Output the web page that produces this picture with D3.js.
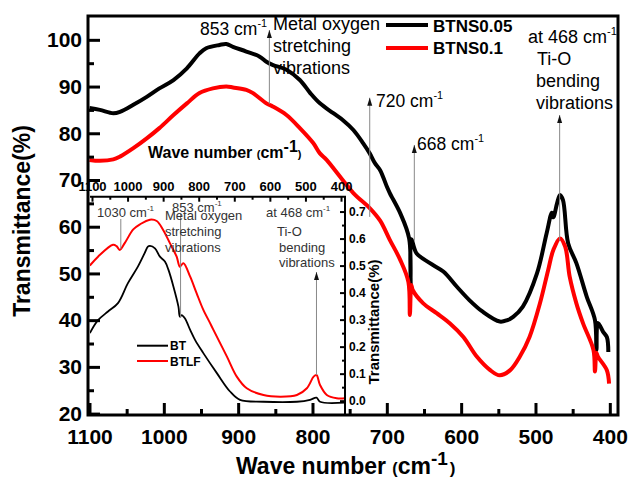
<!DOCTYPE html>
<html lang="en">
<head>
<meta charset="UTF-8">
<title>FTIR Transmittance BTNS</title>
<script src="https://d3js.org/d3.v7.min.js"></script>
<style>
  body { margin: 0; background: #fff; }
  svg { display: block; font-family: "Liberation Sans", Arial, sans-serif; }
</style>
</head>
<body>
<div id="chart"></div>
<script>
// main spectra (wave number cm-1, transmittance %)
const btns005Wave = [1100,1086,1068,1059,1041,1023,1006,987,969,952,943,925,916,907,889,871,862,853,835,817,803,790,772,759,745,732,723,716,709,700,696,682,670,668,667,660,642,624,606,589,571,548,538,530,517,498,485,478,476,471,467,463,456,445,431,420,418,416,409,404,402];
const btns005T    = [85.4,85.0,84.3,84.6,86.1,87.8,89.6,91.4,93.9,97.1,98.2,98.9,99.1,98.5,97.5,96.4,95.3,94.6,93.6,91.4,88.6,86.4,84.3,82.8,80.7,77.9,75.7,73.6,72.1,68.6,67.2,62.9,57.5,47.5,57.3,54.3,52.2,50.4,47.2,44.3,41.8,39.7,40.0,40.7,42.9,50.0,58.6,63.0,62.0,65.0,66.8,65.7,56.4,52.2,45.0,40.0,33.6,39.4,37.5,36.4,33.2];

const btns01Wave = [1100,1086,1068,1059,1041,1023,1006,987,969,952,934,916,907,889,880,862,853,835,817,799,790,781,745,723,709,696,682,671,669,667,665,651,633,615,597,579,561,548,534,521,508,494,483,476,467,460,454,445,436,422,420,418,416,404,401];
const btns01T    = [74.3,74.1,74.4,75.0,76.8,78.9,81.1,83.9,86.4,88.6,89.6,90.0,89.8,89.3,88.6,86.4,85.7,83.9,81.1,77.9,75.7,74.3,67.2,64.0,61.3,57.2,52.9,48.2,41.1,47.5,46.4,43.6,41.5,39.3,36.4,32.2,29.3,28.2,29.3,32.2,36.4,43.6,50.7,55.0,57.5,55.7,49.3,43.6,39.3,33.6,29.0,33.0,32.2,29.3,26.4];

// inset spectra (wave number cm-1, transmittance)
const btWave = [1106,1083,1055,1027,999,971,952,943,937,923,909,895,885,871,857,853,848,839,824,810,787,749,712,684,618,524,487,469,459,389];
const btT    = [0.25,0.298,0.330,0.361,0.435,0.496,0.546,0.570,0.573,0.564,0.533,0.515,0.484,0.422,0.348,0.311,0.317,0.305,0.262,0.224,0.176,0.102,0.034,0.003,-0.004,-0.004,0.003,0.011,-0.004,-0.007];

const btlfWave = [1106,1083,1041,1031,1022,1008,984,965,937,918,900,881,862,853,843,824,806,787,768,759,721,693,665,618,571,524,496,477,469,459,440,412,389];
const btlfT    = [0.50,0.533,0.577,0.572,0.558,0.583,0.634,0.653,0.670,0.665,0.632,0.583,0.533,0.496,0.509,0.459,0.398,0.336,0.287,0.263,0.164,0.089,0.046,0.021,0.015,0.021,0.046,0.089,0.095,0.058,0.021,0.009,0.009];

const seriesNames = ["BTNS0.05", "BTNS0.1"];
const insetNames = ["BT", "BTLF"];
const xTicks = [1100, 1000, 900, 800, 700, 600, 500, 400];
const xMinor = [1050, 950, 850, 750, 650, 550, 450];
const yTicks = [20, 30, 40, 50, 60, 70, 80, 90, 100];
const yMinor = [25, 35, 45, 55, 65, 75, 85, 95];
const insetYTicks = [0, 0.1, 0.2, 0.3, 0.4, 0.5, 0.6, 0.7];
const insetYMinor = [0.05, 0.15, 0.25, 0.35, 0.45, 0.55, 0.65];

const width = 629, height = 478;
const svg = d3.select("#chart").append("svg")
    .attr("width", width).attr("height", height);

const x = d3.scaleLinear().domain([1102, 389]).range([88, 618]);
const y = d3.scaleLinear().domain([19.7, 105.1]).range([415, 16]);

const xi = d3.scaleLinear().domain([1105.6, 388.8]).range([90, 345]);
const yi = d3.scaleLinear().domain([-0.053, 0.755]).range([415, 196.7]);

const defs = svg.append("defs");
defs.append("clipPath").attr("id", "clipMain").append("rect")
    .attr("x", 88).attr("y", 16).attr("width", 530).attr("height", 399);
defs.append("clipPath").attr("id", "clipInset").append("rect")
    .attr("x", 90).attr("y", 196.7).attr("width", 255).attr("height", 218.3);

function zip(a, b) { return a.map((d, i) => [d, b[i]]); }

// text with a superscript part
function supText(g, px, py, base, sup, size, color) {
    const t = g.append("text").attr("x", px).attr("y", py)
        .attr("font-size", size).attr("fill", color || "#000");
    t.append("tspan").text(base);
    t.append("tspan").attr("dy", -size * 0.45).attr("font-size", size * 0.62).text(sup);
    return t;
}

function arrow(g, px, y1, y2, head) {
    g.append("line").attr("x1", px).attr("x2", px).attr("y1", y1).attr("y2", y2)
        .attr("stroke", "#888").attr("stroke-width", 1);
    if (head) {
        g.append("path")
            .attr("d", `M${px},${y1} L${px - 2.5},${y1 + 8} L${px + 2.5},${y1 + 8} Z`)
            .attr("fill", "#111");
    }
}

// main curves
const line = d3.line().x(d => x(d[0])).y(d => y(d[1])).curve(d3.curveCatmullRom.alpha(0.5));
const mainG = svg.append("g").attr("clip-path", "url(#clipMain)");
mainG.append("path").datum(zip(btns005Wave, btns005T)).attr("d", line)
    .attr("fill", "none").attr("stroke", "#000").attr("stroke-width", 4).attr("stroke-linejoin", "round");
mainG.append("path").datum(zip(btns01Wave, btns01T)).attr("d", line)
    .attr("fill", "none").attr("stroke", "#ff0000").attr("stroke-width", 4).attr("stroke-linejoin", "round");

// main annotations
const ann = svg.append("g");
arrow(ann, x(858), y(102.1), y(86.3), true);
supText(ann, 200, 35, "853 cm", "-1", 17.5);
ann.append("text").attr("x", 273).attr("y", 30).attr("font-size", 18).text("Metal oxygen");
ann.append("text").attr("x", 273).attr("y", 52).attr("font-size", 18).text("stretching");
ann.append("text").attr("x", 273).attr("y", 74).attr("font-size", 18).text("vibrations");

arrow(ann, x(723), y(87.6), y(62.1), true);
supText(ann, 376, 107, "720 cm", "-1", 17.5);

arrow(ann, x(663), y(77.5), y(57), true);
supText(ann, 417, 150, "668 cm", "-1", 17.5);

arrow(ann, x(467.5), y(83.9), y(57), true);
supText(ann, 528, 43, "at 468 cm", "-1", 18);
ann.append("text").attr("x", 537).attr("y", 65).attr("font-size", 18).text("Ti-O");
ann.append("text").attr("x", 536).attr("y", 87).attr("font-size", 18).text("bending");
ann.append("text").attr("x", 536).attr("y", 109).attr("font-size", 18).text("vibrations");

// legend
const leg = svg.append("g");
[["#000", 25, 32], ["#ff0000", 48, 54]].forEach((c, i) => {
    leg.append("line").attr("x1", 386).attr("x2", 428).attr("y1", c[1]).attr("y2", c[1])
        .attr("stroke", c[0]).attr("stroke-width", 4);
    leg.append("text").attr("x", 433).attr("y", c[2]).attr("font-size", 17)
        .attr("font-weight", "bold").text(seriesNames[i]);
});

// inset
const inset = svg.append("g");
inset.append("rect").attr("x", 90).attr("y", 196.7).attr("width", 255).attr("height", 218.3).attr("fill", "#fff");
const lineI = d3.line().x(d => xi(d[0])).y(d => yi(d[1])).curve(d3.curveCatmullRom.alpha(0.5));
const insetCurves = inset.append("g").attr("clip-path", "url(#clipInset)");
insetCurves.append("path").datum(zip(btlfWave, btlfT)).attr("d", lineI)
    .attr("fill", "none").attr("stroke", "#ff0000").attr("stroke-width", 2);
insetCurves.append("path").datum(zip(btWave, btT)).attr("d", lineI)
    .attr("fill", "none").attr("stroke", "#000").attr("stroke-width", 1.8);

// inset annotations
const ia = inset.append("g");
arrow(ia, xi(1019), 219, 249, false);
supText(ia, 97, 217, "1030 cm", "-1", 13, "#333");
arrow(ia, xi(851), 214, 318, false);
supText(ia, 172, 212, "853 cm", "-1", 13, "#333");
ia.append("text").attr("x", 165).attr("y", 220).attr("font-size", 13).attr("fill", "#333").text("Metal oxygen");
ia.append("text").attr("x", 165).attr("y", 236).attr("font-size", 13).attr("fill", "#333").text("stretching");
ia.append("text").attr("x", 165).attr("y", 252).attr("font-size", 13).attr("fill", "#333").text("vibrations");
arrow(ia, xi(469), 272, 375, true);
supText(ia, 266, 217, "at 468 cm", "-1", 13, "#333");
ia.append("text").attr("x", 277).attr("y", 236).attr("font-size", 13).attr("fill", "#333").text("Ti-O");
ia.append("text").attr("x", 279).attr("y", 252).attr("font-size", 13).attr("fill", "#333").text("bending");
ia.append("text").attr("x", 279).attr("y", 267).attr("font-size", 13).attr("fill", "#333").text("vibrations");

// inset legend
[["#000", 345.7, 350], ["#ff0000", 361, 365.5]].forEach((c, i) => {
    inset.append("line").attr("x1", 137).attr("x2", 168).attr("y1", c[1]).attr("y2", c[1])
        .attr("stroke", c[0]).attr("stroke-width", 2);
    inset.append("text").attr("x", 170).attr("y", c[2]).attr("font-size", 12)
        .attr("font-weight", "bold").text(insetNames[i]);
});

// inset axes
const iTop = inset.append("g").attr("transform", "translate(0,196.7)")
    .call(d3.axisTop(xi).tickValues(xTicks).tickSizeInner(-5).tickSizeOuter(0).tickPadding(6).tickFormat(d3.format("d")));
const iTopMinor = inset.append("g").attr("transform", "translate(0,196.7)")
    .call(d3.axisTop(xi).tickValues(xMinor).tickSizeInner(-3).tickSizeOuter(0).tickFormat(""));
const iRight = inset.append("g").attr("transform", "translate(345,0)")
    .call(d3.axisRight(yi).tickValues(insetYTicks).tickSizeInner(-5).tickSizeOuter(0).tickPadding(4).tickFormat(d3.format(".1f")));
const iRightMinor = inset.append("g").attr("transform", "translate(345,0)")
    .call(d3.axisRight(yi).tickValues(insetYMinor).tickSizeInner(-3).tickSizeOuter(0).tickFormat(""));
[iTop, iTopMinor, iRight, iRightMinor].forEach(g => {
    g.select(".domain").remove();
    g.selectAll("line").attr("stroke", "#000").attr("stroke-width", 2);
    g.selectAll("text").attr("font-size", 12).attr("font-weight", "bold")
        .attr("font-family", "Liberation Sans, Arial, sans-serif").attr("fill", "#000");
});
iTop.selectAll("text").attr("font-size", 13);
inset.append("path").attr("d", "M90,196.7 L345,196.7 L345,415")
    .attr("fill", "none").attr("stroke", "#000").attr("stroke-width", 2);

const iyTitle = inset.append("text").attr("transform", "translate(379,322) rotate(-90)")
    .attr("text-anchor", "middle").attr("font-size", 15).attr("font-weight", "bold");
iyTitle.text("Transmittance(%)");

const ixTitle = inset.append("text").attr("x", 148).attr("y", 158).attr("font-size", 16).attr("font-weight", "bold");
ixTitle.append("tspan").text("Wave number ");
ixTitle.append("tspan").attr("font-size", 11).text("(");
ixTitle.append("tspan").text("cm");
ixTitle.append("tspan").attr("dy", -6).text("-1");
ixTitle.append("tspan").attr("dy", 6).attr("font-size", 11).text(")");

// main axes
const axG = svg.append("g");
const xAxis = axG.append("g").attr("transform", "translate(0,415)")
    .call(d3.axisBottom(x).tickValues(xTicks).tickSizeInner(-12).tickSizeOuter(0).tickPadding(14).tickFormat(d3.format("d")));
const xAxisMinor = axG.append("g").attr("transform", "translate(0,415)")
    .call(d3.axisBottom(x).tickValues(xMinor).tickSizeInner(-6).tickSizeOuter(0).tickFormat(""));
const yAxis = axG.append("g").attr("transform", "translate(88,0)")
    .call(d3.axisLeft(y).tickValues(yTicks).tickSizeInner(-12).tickSizeOuter(0).tickPadding(6));
const yAxisMinor = axG.append("g").attr("transform", "translate(88,0)")
    .call(d3.axisLeft(y).tickValues(yMinor).tickSizeInner(-6).tickSizeOuter(0).tickFormat(""));
[xAxis, xAxisMinor, yAxis, yAxisMinor].forEach(g => {
    g.select(".domain").remove();
    g.selectAll("line").attr("stroke", "#000").attr("stroke-width", 3);
    g.selectAll("text").attr("font-size", 21).attr("font-weight", "bold")
        .attr("font-family", "Liberation Sans, Arial, sans-serif").attr("fill", "#000");
});
axG.append("rect").attr("x", 88).attr("y", 16).attr("width", 530).attr("height", 399)
    .attr("fill", "none").attr("stroke", "#000").attr("stroke-width", 3);

const yTitle = svg.append("text").attr("transform", "translate(30,221) rotate(-90)")
    .attr("text-anchor", "middle").attr("font-size", 23).attr("font-weight", "bold")
    .text("Transmittance(%)");

const xTitle = svg.append("text").attr("x", 236).attr("y", 474).attr("font-size", 23).attr("font-weight", "bold");
xTitle.append("tspan").text("Wave number ");
xTitle.append("tspan").attr("font-size", 16).text("(");
xTitle.append("tspan").text("cm");
xTitle.append("tspan").attr("dy", -9).attr("font-size", 19).text("-1");
xTitle.append("tspan").attr("dy", 9).attr("font-size", 17).attr("dx", 2).text(")");
</script>
</body>
</html>
